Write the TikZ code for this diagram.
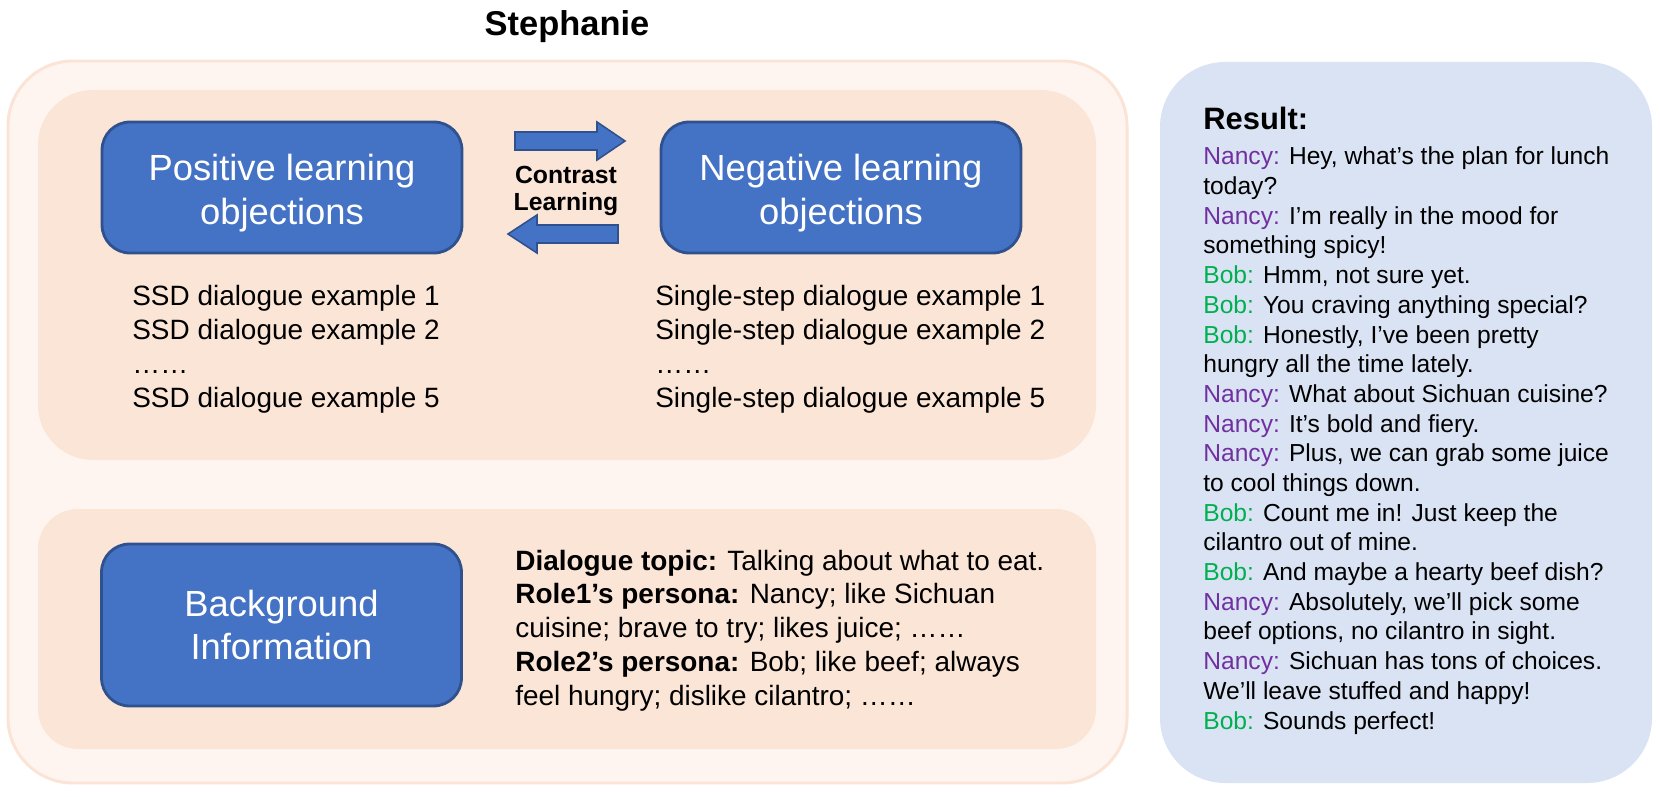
\documentclass[tikz,border=0pt]{standalone}
\usepackage{fontspec}
\setmainfont{Liberation Sans}
\usepackage{xcolor}
\usepackage{tikz}
\usetikzlibrary{positioning}
\definecolor{stephfill}{HTML}{FEF5F1}
\definecolor{stephline}{HTML}{FBE3D5}
\definecolor{peach}{HTML}{FBE5D6}
\definecolor{objblue}{HTML}{4472C4}
\definecolor{objline}{HTML}{2F528F}
\definecolor{resultblue}{HTML}{DAE3F3}
\definecolor{nancypurple}{HTML}{7030A0}
\definecolor{bobgreen}{HTML}{00B050}
\newcommand{\nancy}{\textcolor{nancypurple}{Nancy:}}
\newcommand{\bob}{\textcolor{bobgreen}{Bob:}}
\newcommand{\toplift}{\rule{0pt}{21.5pt}}

\begin{document}
\begin{tikzpicture}[
        x=0.02cm, y=-0.02cm,
        objbox/.style={rectangle, rounded corners=0.56cm, draw=objline, fill=objblue, line width=1.6pt, minimum width=7.2cm, minimum height=2.62cm, text=white, align=center, font=\fontsize{20.7}{25}\selectfont},
        itemlist/.style={anchor=base west, inner sep=0pt, align=left, font=\fontsize{15.9}{19.3}\selectfont},
        blockarrow/.style={fill=objblue, draw=objline, line width=0.9pt}
    ]
        \useasboundingbox (0,0) rectangle (1660,797);

        % panels
        \draw[fill=stephfill, draw=stephline, line width=1.7pt, rounded corners=1.3cm] (8,61) rectangle (1127,783);
        \fill[peach, rounded corners=1.1cm] (38,90) rectangle (1096,460);
        \fill[peach, rounded corners=0.8cm] (38,509) rectangle (1096,749);
        \fill[resultblue, rounded corners=1.3cm] (1160,62) rectangle (1652,783);

        \node[anchor=base, inner sep=0pt, font=\bfseries\fontsize{19.6}{23}\selectfont] (title) at (567,36) {Stephanie};

        \node[objbox] (pos) at (282,187.5) {\toplift Positive learning\\objections};
        \node[objbox] (neg) at (841,187.5) {\toplift Negative learning\\objections};
        \node[objbox, minimum height=3.24cm] (bg) at (281.5,625) {Background\\Information};

        % contrast arrows (base anchor = last line)
        \draw[blockarrow] (515,132) -- (597,132) -- (597,122) -- (625,141) -- (597,160) -- (597,150) -- (515,150) -- cycle;
        \draw[blockarrow] (618,225) -- (537,225) -- (537,215) -- (508,234) -- (537,253) -- (537,243) -- (618,243) -- cycle;
        \node[anchor=base, inner sep=0pt, align=center, font=\bfseries\fontsize{14.1}{15.9}\selectfont] (contrast) at (566,211) {Contrast\\Learning};

        \node[itemlist] (poslist) at (132,407) {SSD dialogue example 1\\SSD dialogue example 2\\……\\SSD dialogue example 5};
        \node[itemlist] (neglist) at (655,407) {Single-step dialogue example 1\\Single-step dialogue example 2\\……\\Single-step dialogue example 5};

        \node[itemlist, font=\fontsize{15.9}{19.2}\selectfont] (bginfo) at (515,705) {\textbf{Dialogue topic:} Talking about what to eat.\\
            \textbf{Role1’s persona:} Nancy; like Sichuan\\
            cuisine; brave to try; likes juice; ……\\
            \textbf{Role2’s persona:} Bob; like beef; always\\
            feel hungry; dislike cilantro; ……};

        % result
        \node[itemlist, font=\bfseries\fontsize{17.6}{20}\selectfont] (restitle) at (1203,130) {Result:};
        \node[itemlist, font=\fontsize{14}{16.9}\selectfont] (dialog) at (1203,729) {\nancy{} Hey, what’s the plan for lunch\\
            today?\\
            \nancy{} I’m really in the mood for\\
            something spicy!\\
            \bob{} Hmm, not sure yet.\\
            \bob{} You craving anything special?\\
            \bob{} Honestly, I’ve been pretty\\
            hungry all the time lately.\\
            \nancy{} What about Sichuan cuisine?\\
            \nancy{} It’s bold and fiery.\\
            \nancy{} Plus, we can grab some juice\\
            to cool things down.\\
            \bob{} Count me in! Just keep the\\
            cilantro out of mine.\\
            \bob{} And maybe a hearty beef dish?\\
            \nancy{} Absolutely, we’ll pick some\\
            beef options, no cilantro in sight.\\
            \nancy{} Sichuan has tons of choices.\\
            We’ll leave stuffed and happy!\\
            \bob{} Sounds perfect!};
    \end{tikzpicture}
\end{document}
